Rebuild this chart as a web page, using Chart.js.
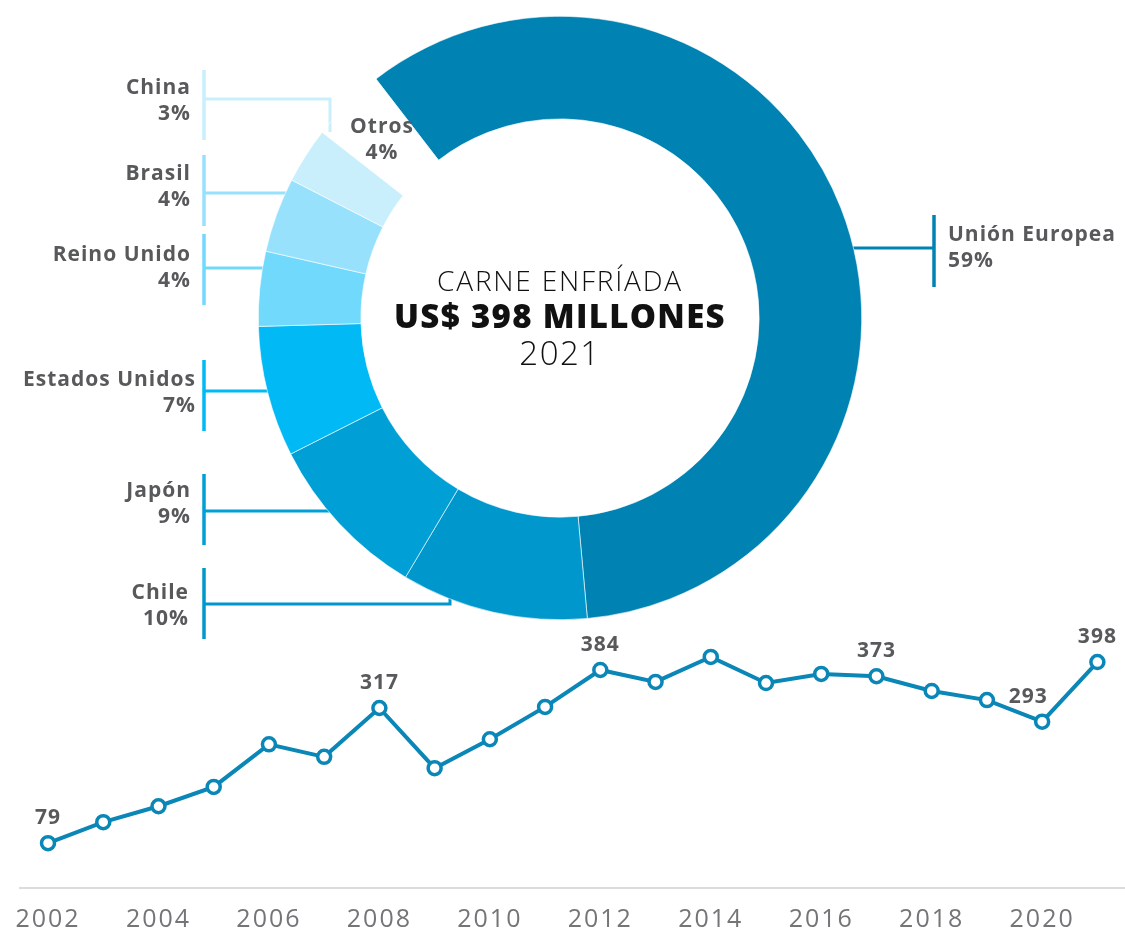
<!DOCTYPE html>
<html>
<head>
<meta charset="utf-8">
<script src="https://cdn.jsdelivr.net/npm/chart.js@4.4.1/dist/chart.umd.min.js"></script>
<style>
  html, body { margin: 0; padding: 0; background: #fff; overflow: hidden; }
  #wrap { position: relative; width: 1125px; height: 930px; overflow: hidden; }
  #dona { position: absolute; left: 0; top: 0; }
  #linea { position: absolute; left: 0; top: 595px; }
</style>
</head>
<body>
<div id="wrap">
  <canvas id="dona" width="1125" height="640"></canvas>
  <canvas id="linea" width="1125" height="356"></canvas>
</div>
<script>
// Destinos de la carne enfriada 2021 (% del total)
const mercados = ['Unión Europea', 'Chile', 'Japón', 'Estados Unidos', 'Reino Unido', 'Brasil', 'China', 'Otros'];
const participacion = [59, 10, 9, 7, 4, 4, 3, 4];
const coloresMercado = ['#0083b3', '#0097cc', '#009fd6', '#00b9f5', '#70d9fc', '#98e1fc', '#c9effc', 'rgba(0,0,0,0)'];

// Serie anual (US$ millones)
const anios = ['2002', '2003', '2004', '2005', '2006', '2007', '2008', '2009', '2010', '2011',
  '2012', '2013', '2014', '2015', '2016', '2017', '2018', '2019', '2020', '2021'];
const valores = [79, 116, 144, 178, 253, 231, 317, 211, 262, 319,
  384, 363, 407, 361, 377, 373, 347, 331, 293, 398];
const aniosConEtiqueta = ['2002', '2008', '2012', '2017', '2020', '2021'];

const fuente = '"Open Sans", "DejaVu Sans", sans-serif';
const gris = '#58595b';

// posicion de cada etiqueta y su linea guia
const etiquetas = {
  'China':          { x: 191, y: 88,  align: 'right', barra: [204, 70, 140], guia: [[204, 99], [330, 99], [330, 132]] },
  'Brasil':         { x: 191, y: 174, align: 'right', barra: [204, 155, 226], guia: [[204, 193], [292, 193]] },
  'Reino Unido':    { x: 191, y: 255, align: 'right', barra: [204, 234, 305], guia: [[204, 268], [264, 268]] },
  'Estados Unidos': { x: 196, y: 380, align: 'right', barra: [204, 360, 431], guia: [[204, 391], [270, 391]] },
  'Japón':          { x: 191, y: 491, align: 'right', barra: [204, 474, 545], guia: [[204, 511], [332, 511]] },
  'Chile':          { x: 189, y: 593, align: 'right', barra: [204, 568, 639], guia: [[204, 604], [450, 604], [450, 592]] },
  'Unión Europea':  { x: 948, y: 235, align: 'left',  barra: [934, 215, 287], guia: [[934, 248], [850, 248]] },
  'Otros':          { x: 382, y: 127, align: 'center' }
};

const guiasPlugin = {
  id: 'guias',
  beforeDatasetsDraw(chart) {
    const ctx = chart.ctx;
    ctx.save();
    mercados.forEach((m, i) => {
      const e = etiquetas[m];
      if (!e || !e.guia) return;
      ctx.strokeStyle = coloresMercado[i];
      ctx.lineWidth = 3.5;
      ctx.beginPath();
      ctx.moveTo(e.barra[0], e.barra[1]);
      ctx.lineTo(e.barra[0], e.barra[2]);
      ctx.stroke();
      ctx.lineWidth = 3;
      ctx.beginPath();
      e.guia.forEach((p, k) => k ? ctx.lineTo(p[0], p[1]) : ctx.moveTo(p[0], p[1]));
      ctx.stroke();
    });
    ctx.restore();
  },
  afterDatasetsDraw(chart) {
    const ctx = chart.ctx;
    ctx.save();
    ctx.fillStyle = gris;
    ctx.font = '700 21px ' + fuente;
    ctx.letterSpacing = '1px';
    ctx.textBaseline = 'middle';
    mercados.forEach((m, i) => {
      const e = etiquetas[m];
      if (!e) return;
      ctx.textAlign = e.align;
      ctx.fillText(m, e.x, e.y);
      ctx.fillText(participacion[i] + '%', e.x, e.y + 26);
    });
    // texto central
    const arc = chart.getDatasetMeta(0).data[0];
    const cx = arc.x, cy = arc.y;
    ctx.fillStyle = '#111';
    ctx.textAlign = 'center';
    ctx.font = '300 28px ' + fuente;
    ctx.letterSpacing = '1.8px';
    ctx.fillText('CARNE ENFRÍADA', cx, cy - 35);
    ctx.font = '800 33px ' + fuente;
    ctx.letterSpacing = '1.3px';
    ctx.fillText('US$ 398 MILLONES', cx, cy + 1);
    ctx.font = '300 33px ' + fuente;
    ctx.letterSpacing = '1.5px';
    ctx.fillText('2021', cx, cy + 38);
    ctx.restore();
  }
};

new Chart(document.getElementById('dona'), {
  type: 'doughnut',
  data: {
    labels: mercados,
    datasets: [{
      data: participacion,
      backgroundColor: coloresMercado,
      borderColor: '#ffffff',
      borderWidth: 0.6
    }]
  },
  options: {
    responsive: false,
    animation: false,
    events: [],
    rotation: -37.6,
    cutout: '66%',
    layout: { padding: { left: 258, right: 263, top: 16, bottom: 20 } },
    plugins: { legend: { display: false }, tooltip: { enabled: false } }
  },
  plugins: [guiasPlugin]
});

const valoresPlugin = {
  id: 'valores',
  beforeDraw(chart) {
    // años del eje algo espaciados, como en el original
    chart.ctx.letterSpacing = '2px';
  },
  afterDatasetsDraw(chart) {
    const ctx = chart.ctx;
    const pts = chart.getDatasetMeta(0).data;
    ctx.save();
    ctx.fillStyle = gris;
    ctx.font = '700 21px ' + fuente;
    ctx.letterSpacing = '1px';
    ctx.textAlign = 'center';
    ctx.textBaseline = 'middle';
    anios.forEach((a, i) => {
      if (!aniosConEtiqueta.includes(a)) return;
      const dx = a === '2020' ? -14 : 0;
      ctx.fillText(String(valores[i]), pts[i].x + dx, pts[i].y - 25);
    });
    ctx.restore();
  }
};

new Chart(document.getElementById('linea'), {
  type: 'line',
  data: {
    labels: anios,
    datasets: [{
      data: valores,
      borderColor: '#0a86b7',
      borderWidth: 4,
      pointRadius: 6.5,
      pointBorderWidth: 3.5,
      pointBackgroundColor: '#ffffff',
      pointBorderColor: '#0a86b7',
      tension: 0,
      clip: false
    }]
  },
  options: {
    responsive: false,
    animation: false,
    events: [],
    layout: { autoPadding: false, padding: { left: 17, right: 0, top: 37.5, bottom: 0 } },
    scales: {
      x: {
        offset: true,
        grid: { display: false, drawTicks: false },
        border: { display: true, color: '#dcdcdc', width: 2 },
        ticks: {
          autoSkip: false,
          maxRotation: 0,
          padding: 19,
          color: '#747577',
          font: { family: fuente, size: 25, weight: '400', lineHeight: 1 },
          callback: function (v, i) { return i % 2 === 0 ? anios[i] : ''; }
        }
      },
      y: { display: false, min: 0, max: 450 }
    },
    plugins: { legend: { display: false }, tooltip: { enabled: false } }
  },
  plugins: [valoresPlugin]
});
</script>
</body>
</html>
